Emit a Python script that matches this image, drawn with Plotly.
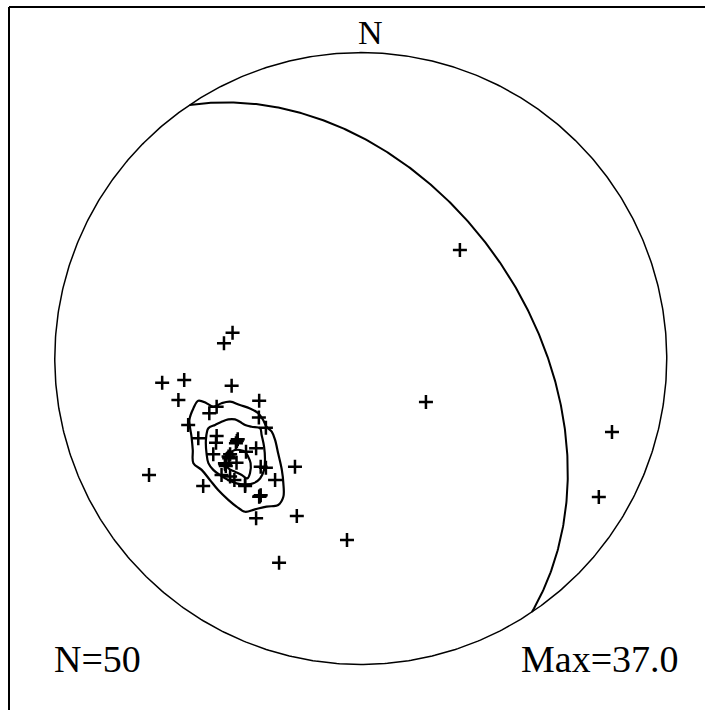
import numpy as np
import plotly.graph_objects as go

# Plane (great circle), right-hand rule strike / dip in degrees
plane_strike = 326.0
plane_dip = 44.0

# Poles: projected east / north coordinates (percent of primitive radius)
pole_east = [32.4, 21.3, 82.1, 77.8, -4.5, -26.7,
             -41.9, -44.7, -64.9, -57.7, -42.2, -59.6, -33.2, -47.1, -49.5, -33.3,
             -56.4, -53.1, -47.1, -47.3, -40.2, -40.8, -34.2, -48.2, -42.7, -37.5,
             -43.0, -44.4, -40.6, -44.1, -32.7, -31.0, -21.5, -69.2, -45.5, -42.7,
             -41.3, -28.0, -51.5, -37.8, -33.2, -32.7, -20.9, -34.2, -31.0,
             -43.2, -40.5, -37.8, -44.3, -33.0]
pole_north = [35.5, -14.2, -24.0, -45.3, -59.3, -66.8,
              8.4, 5.0, -7.9, -7.0, -8.9, -13.6, -13.8, -15.8, -17.9, -19.3,
              -21.7, -26.1, -25.3, -27.5, -26.4, -27.7, -29.3, -31.3, -31.3, -30.5,
              -32.6, -34.2, -34.1, -35.1, -35.4, -35.7, -35.4, -38.1, -38.1, -38.6,
              -39.7, -39.7, -41.7, -41.7, -45.2, -44.7, -51.5, -52.2, -22.6,
              -32.0, -27.0, -41.2, -34.6, -45.0]

# Density contours (traced), east / north
c1_east = [-53.1, -54.7, -56.0, -55.3, -54.9, -54.7, -52.0, -49.3, -46.6, -43.3, -40.6, -37.8,
           -34.6, -30.8, -27.0, -25.3, -25.3, -25.8, -27.0, -28.0, -29.1, -30.8, -31.9, -33.5,
           -36.2, -39.5, -42.7, -45.5, -48.2, -50.4, -53.1]
c1_north = [-13.8, -16.3, -20.1, -25.6, -29.9, -34.2, -36.4, -39.7, -43.0, -46.2, -48.4, -50.1,
            -49.3, -48.4, -47.9, -45.2, -40.8, -36.4, -31.0, -26.6, -23.9, -22.3, -20.1, -17.9,
            -16.3, -15.2, -14.1, -14.6, -15.8, -14.6, -13.8]
c2_east = [-49.8, -50.6, -50.4, -49.8, -48.2, -46.0, -43.3, -40.6, -37.8, -35.1, -32.9, -31.6,
           -31.3, -31.6, -32.4, -32.9, -35.7, -37.8, -39.5, -41.1, -43.3, -45.5, -47.6, -49.8]
c2_north = [-22.8, -26.6, -31.0, -34.2, -36.4, -38.1, -39.7, -40.8, -41.3, -40.8, -39.2, -36.4,
            -33.2, -28.8, -25.0, -22.8, -22.3, -21.7, -20.7, -19.9, -19.9, -20.7, -21.7, -22.8]
c3_east = [-42.2, -43.6, -44.1, -43.3, -41.1, -38.9, -37.1, -36.2, -36.0, -36.8, -37.8, -39.5,
           -41.1, -42.2]
c3_north = [-30.5, -32.1, -34.2, -35.9, -37.0, -38.1, -39.2, -37.5, -34.2, -32.1, -30.5, -29.9,
            -29.9, -30.5]
c4_east = [-43.8, -42.3, -41.8, -42.6, -43.9, -43.8]
c4_north = [-30.8, -30.4, -31.5, -32.4, -32.1, -30.8]

n_label = "N=50"
max_label = "Max=37.0"

# --- equal-area projection helpers ---
def project(trend_deg, plunge_deg):
    t = np.radians(trend_deg)
    r = np.sqrt(2) * np.sin(np.radians(90 - np.asarray(plunge_deg)) / 2) * 100
    return r * np.sin(t), r * np.cos(t)

s = np.radians(plane_strike)
d = np.radians(plane_dip)
sv = np.array([np.sin(s), np.cos(s), 0.0])
dv = np.array([np.cos(d) * np.sin(s + np.pi / 2), np.cos(d) * np.cos(s + np.pi / 2), np.sin(d)])
ang = np.radians(np.linspace(0, 180, 361))
vec = np.outer(np.cos(ang), sv) + np.outer(np.sin(ang), dv)
plunge = np.degrees(np.arcsin(np.clip(vec[:, 2], -1, 1)))
trend = np.degrees(np.arctan2(vec[:, 0], vec[:, 1]))
gx, gy = project(trend, plunge)

th = np.radians(np.linspace(0, 360, 721))
px = 100 * np.sin(th)
py = 100 * np.cos(th)

fig = go.Figure()
fig.add_trace(go.Scatter(x=px, y=py, mode="lines", line=dict(color="black", width=1.5),
                         hoverinfo="skip"))
fig.add_trace(go.Scatter(x=gx, y=gy, mode="lines", line=dict(color="black", width=2),
                         hoverinfo="skip"))
for ce, cn in [(c1_east, c1_north), (c2_east, c2_north), (c3_east, c3_north), (c4_east, c4_north)]:
    fig.add_trace(go.Scatter(x=ce, y=cn, mode="lines", line=dict(color="black", width=2.2),
                             line_shape="spline", hoverinfo="skip"))
fig.add_trace(go.Scatter(x=pole_east, y=pole_north, mode="markers", hoverinfo="skip",
                         marker=dict(symbol="cross-thin", size=10,
                                     line=dict(color="black", width=2.5), color="black")))

font = dict(family="Liberation Serif, Times New Roman, serif", size=34, color="black")
font_b = dict(family="Liberation Serif, Times New Roman, serif", size=38, color="black")
fig.add_annotation(x=3.2, y=106.7, xref="x", yref="y", text="N", showarrow=False,
                   xanchor="center", yanchor="middle", font=font)
fig.add_annotation(x=-100.9, y=-98.3, xref="x", yref="y", text=n_label, showarrow=False,
                   xanchor="left", yanchor="middle", font=font_b)
fig.add_annotation(x=104.6, y=-98.3, xref="x", yref="y", text=max_label, showarrow=False,
                   xanchor="right", yanchor="middle", font=font_b)

# frame: left and top edges only (right/bottom lie outside the picture)
fig.add_shape(type="line", xref="paper", yref="paper", x0=9 / 705, x1=9 / 705,
              y0=0, y1=1 - 7 / 710, line=dict(color="black", width=2))
fig.add_shape(type="line", xref="paper", yref="paper", x0=9 / 705, x1=1,
              y0=1 - 7 / 710, y1=1 - 7 / 710, line=dict(color="black", width=2))

fig.update_layout(
    width=705, height=710, margin=dict(l=0, r=0, t=0, b=0),
    paper_bgcolor="white", plot_bgcolor="white", showlegend=False,
    xaxis=dict(range=[-117.9, 112.5], visible=False, fixedrange=True),
    yaxis=dict(range=[-114.9, 117.2], visible=False, fixedrange=True),
)
fig.write_html("out.html", config={"displayModeBar": False, "staticPlot": True},
               post_script="document.body.style.margin='0';document.body.style.overflow='hidden';")
